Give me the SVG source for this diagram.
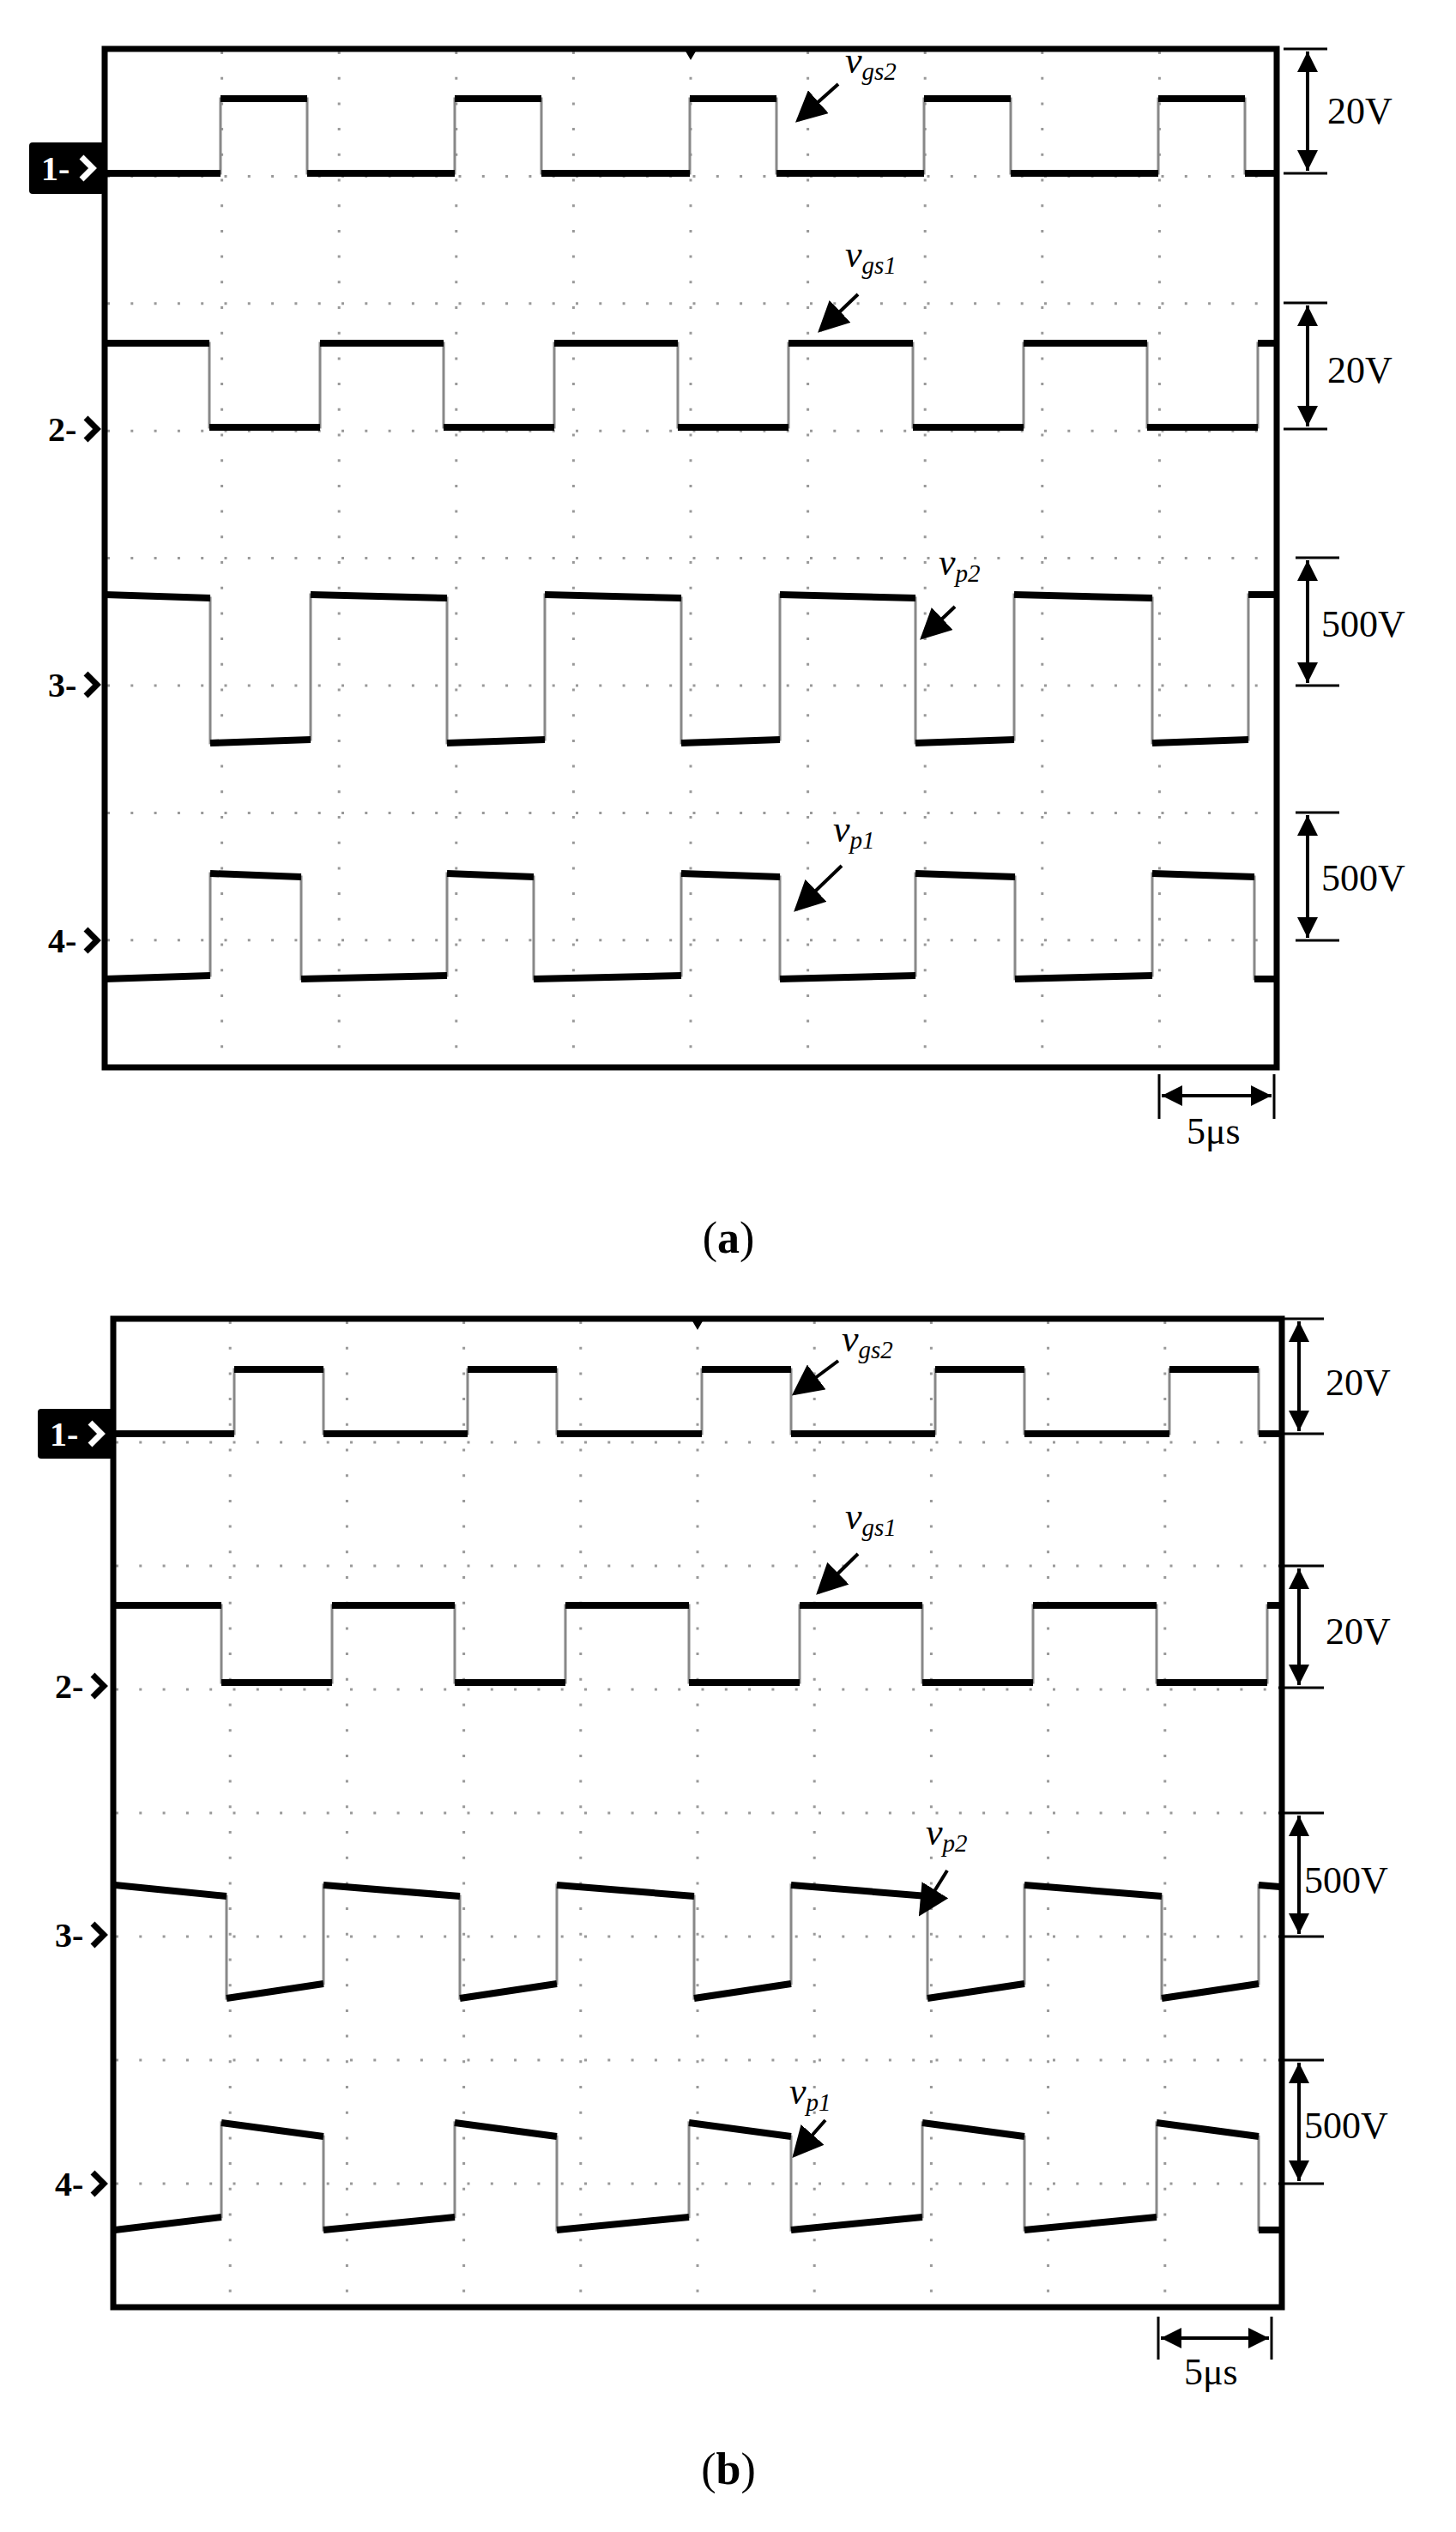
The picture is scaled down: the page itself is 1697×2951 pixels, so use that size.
<svg xmlns="http://www.w3.org/2000/svg" width="1697" height="2951" viewBox="0 0 1697 2951">
<style>
.frame{fill:none;stroke:#000;stroke-width:7}
.gv{stroke:#999;stroke-width:3;stroke-dasharray:3 26.7}
.gh{stroke:#999;stroke-width:3;stroke-dasharray:3 24.3}
.wg{fill:none;stroke:#888;stroke-width:3}
.wb{fill:none;stroke:#000;stroke-width:8}
.ann{stroke:#000;stroke-width:4;fill:none;marker-end:url(#ah)}
.dim{stroke:#000;stroke-width:4;fill:none;marker-start:url(#ah2);marker-end:url(#ah2)}
.tick{stroke:#000;stroke-width:3}
.t{font-family:"Liberation Serif",serif;font-size:44px;fill:#000}
.lbl{font-family:"Liberation Serif",serif;font-size:44px;font-style:italic}
.sub{font-size:29px}
.mk{font-family:"Liberation Serif",serif;font-size:40px;font-weight:bold}
.cap{font-family:"Liberation Serif",serif;font-size:52px}
</style>
<defs>
<marker id="ah" markerWidth="9" markerHeight="9" refX="8" refY="4.5" orient="auto" markerUnits="strokeWidth"><path d="M0,0L9,4.5L0,9z"/></marker>
<marker id="ah2" markerWidth="6" markerHeight="6" refX="6" refY="3" orient="auto-start-reverse" markerUnits="strokeWidth"><path d="M0,0L6,3L0,6z"/></marker>
</defs>

<g id="panel-a">
<g id="grid-a">
<line class="gv" x1="258.6" y1="60" x2="258.6" y2="1241"/><line class="gv" x1="395.2" y1="60" x2="395.2" y2="1241"/><line class="gv" x1="531.8" y1="60" x2="531.8" y2="1241"/><line class="gv" x1="668.4" y1="60" x2="668.4" y2="1241"/><line class="gv" x1="805" y1="60" x2="805" y2="1241"/><line class="gv" x1="941.6" y1="60" x2="941.6" y2="1241"/><line class="gv" x1="1078.2" y1="60" x2="1078.2" y2="1241"/><line class="gv" x1="1214.8" y1="60" x2="1214.8" y2="1241"/><line class="gv" x1="1351.4" y1="60" x2="1351.4" y2="1241"/>
<line class="gh" x1="125" y1="205.4" x2="1485" y2="205.4"/><line class="gh" x1="125" y1="353.8" x2="1485" y2="353.8"/><line class="gh" x1="125" y1="502.2" x2="1485" y2="502.2"/><line class="gh" x1="125" y1="650.6" x2="1485" y2="650.6"/><line class="gh" x1="125" y1="799" x2="1485" y2="799"/><line class="gh" x1="125" y1="947.4" x2="1485" y2="947.4"/><line class="gh" x1="125" y1="1095.8" x2="1485" y2="1095.8"/>
</g>
<g id="waves-a">
<path class="wg" d="M122,202H257V115H358V202H530V115H631V202H804V115H905V202H1077V115H1178V202H1350V115H1451V202H1486"/>
<path class="wb" d="M122,202H257M257,115H358M358,202H530M530,115H631M631,202H804M804,115H905M905,202H1077M1077,115H1178M1178,202H1350M1350,115H1451M1451,202H1486"/>
<path class="wg" d="M122,400H244V498H373V400H517V498H646V400H790V498H919V400H1064V498H1193V400H1337V498H1466V400H1486"/>
<path class="wb" d="M122,400H244M244,498H373M373,400H517M517,498H646M646,400H790M790,498H919M919,400H1064M1064,498H1193M1193,400H1337M1337,498H1466M1466,400H1486"/>
<path class="wg" d="M122,693L245,697V866L362,862V693L521,697V866L635,862V693L794,697V866L909,862V693L1067,697V866L1182,862V693L1343,697V866L1455,862V693L1486,693"/>
<path class="wb" d="M122,693L245,697M245,866L362,862M362,693L521,697M521,866L635,862M635,693L794,697M794,866L909,862M909,693L1067,697M1067,866L1182,862M1182,693L1343,697M1343,866L1455,862M1455,693L1486,693"/>
<path class="wg" d="M122,1141L245,1137V1018L351,1022V1141L521,1137V1018L622,1022V1141L794,1137V1018L909,1022V1141L1067,1137V1018L1183,1022V1141L1343,1137V1018L1462,1022V1141L1486,1141"/>
<path class="wb" d="M122,1141L245,1137M245,1018L351,1022M351,1141L521,1137M521,1018L622,1022M622,1141L794,1137M794,1018L909,1022M909,1141L1067,1137M1067,1018L1183,1022M1183,1141L1343,1137M1343,1018L1462,1022M1462,1141L1486,1141"/>
</g>
<rect class="frame" x="122" y="57" width="1366" height="1187"/>
<path d="M798,58L812,58L805,70z"/>
<g id="markers-a">
<rect x="34" y="166" width="88" height="60" rx="4"/>
<text class="mk" x="48" y="210" fill="#fff">1-</text>
<path d="M95,183L108,196L95,209" stroke="#fff" stroke-width="7" fill="none"/>
<text class="mk" x="56" y="514">2-</text><path d="M100,487L113,500L100,513" stroke="#000" stroke-width="7" fill="none"/>
<text class="mk" x="56" y="812">3-</text><path d="M100,785L113,798L100,811" stroke="#000" stroke-width="7" fill="none"/>
<text class="mk" x="56" y="1110">4-</text><path d="M100,1083L113,1096L100,1109" stroke="#000" stroke-width="7" fill="none"/>
</g>
<g id="labels-a">
<text class="lbl" x="985" y="85">v<tspan class="sub" dy="8">gs2</tspan></text><line class="ann" x1="977" y1="98" x2="930" y2="140"/>
<text class="lbl" x="985" y="311">v<tspan class="sub" dy="8">gs1</tspan></text><line class="ann" x1="1000" y1="343" x2="956" y2="385"/>
<text class="lbl" x="1094" y="670">v<tspan class="sub" dy="8">p2</tspan></text><line class="ann" x1="1113" y1="707" x2="1075" y2="743"/>
<text class="lbl" x="971" y="981">v<tspan class="sub" dy="8">p1</tspan></text><line class="ann" x1="981" y1="1009" x2="928" y2="1060"/>
</g>
<g id="scales-a">
<line class="tick" x1="1496" y1="57" x2="1547" y2="57"/><line class="tick" x1="1496" y1="202" x2="1547" y2="202"/><line class="dim" x1="1524" y1="60" x2="1524" y2="199"/><text class="t" x="1547" y="144">20V</text>
<line class="tick" x1="1496" y1="353" x2="1547" y2="353"/><line class="tick" x1="1496" y1="500" x2="1547" y2="500"/><line class="dim" x1="1524" y1="356" x2="1524" y2="497"/><text class="t" x="1547" y="446">20V</text>
<line class="tick" x1="1510" y1="650" x2="1561" y2="650"/><line class="tick" x1="1510" y1="799" x2="1561" y2="799"/><line class="dim" x1="1524" y1="653" x2="1524" y2="796"/><text class="t" x="1540" y="742">500V</text>
<line class="tick" x1="1510" y1="947" x2="1561" y2="947"/><line class="tick" x1="1510" y1="1096" x2="1561" y2="1096"/><line class="dim" x1="1524" y1="950" x2="1524" y2="1093"/><text class="t" x="1540" y="1038">500V</text>
<line class="tick" x1="1351" y1="1252" x2="1351" y2="1304"/><line class="tick" x1="1485" y1="1252" x2="1485" y2="1304"/><line class="dim" x1="1354" y1="1277" x2="1482" y2="1277"/><text class="t" x="1383" y="1333">5μs</text>
</g>
<text class="cap" x="849" y="1460" text-anchor="middle">(<tspan font-weight="bold">a</tspan>)</text>
</g>

<g id="panel-b">
<g id="grid-b">
<line class="gv" x1="268.2" y1="1540" x2="268.2" y2="2686"/><line class="gv" x1="404.4" y1="1540" x2="404.4" y2="2686"/><line class="gv" x1="540.6" y1="1540" x2="540.6" y2="2686"/><line class="gv" x1="676.8" y1="1540" x2="676.8" y2="2686"/><line class="gv" x1="813" y1="1540" x2="813" y2="2686"/><line class="gv" x1="949.2" y1="1540" x2="949.2" y2="2686"/><line class="gv" x1="1085.4" y1="1540" x2="1085.4" y2="2686"/><line class="gv" x1="1221.6" y1="1540" x2="1221.6" y2="2686"/><line class="gv" x1="1357.8" y1="1540" x2="1357.8" y2="2686"/>
<line class="gh" x1="135" y1="1681" x2="1491" y2="1681"/><line class="gh" x1="135" y1="1825" x2="1491" y2="1825"/><line class="gh" x1="135" y1="1969" x2="1491" y2="1969"/><line class="gh" x1="135" y1="2113" x2="1491" y2="2113"/><line class="gh" x1="135" y1="2257" x2="1491" y2="2257"/><line class="gh" x1="135" y1="2401" x2="1491" y2="2401"/><line class="gh" x1="135" y1="2545" x2="1491" y2="2545"/>
</g>
<g id="waves-b">
<path class="wg" d="M134,1671H273V1596H377V1671H545V1596H649V1671H818V1596H922V1671H1090V1596H1194V1671H1363V1596H1467V1671H1492"/>
<path class="wb" d="M134,1671H273M273,1596H377M377,1671H545M545,1596H649M649,1671H818M818,1596H922M922,1671H1090M1090,1596H1194M1194,1671H1363M1363,1596H1467M1467,1671H1492"/>
<path class="wg" d="M134,1871H258V1961H387V1871H530V1961H659V1871H803V1961H932V1871H1075V1961H1204V1871H1348V1961H1477V1871H1492"/>
<path class="wb" d="M134,1871H258M258,1961H387M387,1871H530M530,1961H659M659,1871H803M803,1961H932M932,1871H1075M1075,1961H1204M1204,1871H1348M1348,1961H1477M1477,1871H1492"/>
<path class="wg" d="M134,2197L264,2210V2329L377,2312V2197L536,2210V2329L649,2312V2197L809,2210V2329L922,2312V2197L1081,2210V2329L1194,2312V2197L1354,2210V2329L1467,2312V2197L1492,2199"/>
<path class="wb" d="M134,2197L264,2210M264,2329L377,2312M377,2197L536,2210M536,2329L649,2312M649,2197L809,2210M809,2329L922,2312M922,2197L1081,2210M1081,2329L1194,2312M1194,2197L1354,2210M1354,2329L1467,2312M1467,2197L1492,2199"/>
<path class="wg" d="M134,2599L258,2584V2474L377,2490V2599L530,2584V2474L649,2490V2599L803,2584V2474L922,2490V2599L1075,2584V2474L1194,2490V2599L1348,2584V2474L1467,2490V2599L1492,2599"/>
<path class="wb" d="M134,2599L258,2584M258,2474L377,2490M377,2599L530,2584M530,2474L649,2490M649,2599L803,2584M803,2474L922,2490M922,2599L1075,2584M1075,2474L1194,2490M1194,2599L1348,2584M1348,2474L1467,2490M1467,2599L1492,2599"/>
</g>
<rect class="frame" x="132" y="1537" width="1362" height="1152"/>
<path d="M806,1538L820,1538L813,1550z"/>
<g id="markers-b">
<rect x="44" y="1642" width="88" height="58" rx="4"/>
<text class="mk" x="58" y="1685" fill="#fff">1-</text>
<path d="M105,1658L118,1671L105,1684" stroke="#fff" stroke-width="7" fill="none"/>
<text class="mk" x="64" y="1979">2-</text><path d="M108,1952L121,1965L108,1978" stroke="#000" stroke-width="7" fill="none"/>
<text class="mk" x="64" y="2269">3-</text><path d="M108,2242L121,2255L108,2268" stroke="#000" stroke-width="7" fill="none"/>
<text class="mk" x="64" y="2559">4-</text><path d="M108,2532L121,2545L108,2558" stroke="#000" stroke-width="7" fill="none"/>
</g>
<g id="labels-b">
<text class="lbl" x="981" y="1575">v<tspan class="sub" dy="8">gs2</tspan></text><line class="ann" x1="977" y1="1586" x2="926" y2="1624"/>
<text class="lbl" x="985" y="1782">v<tspan class="sub" dy="8">gs1</tspan></text><line class="ann" x1="1000" y1="1811" x2="954" y2="1856"/>
<text class="lbl" x="1079" y="2150">v<tspan class="sub" dy="8">p2</tspan></text><line class="ann" x1="1104" y1="2180" x2="1073" y2="2230"/>
<text class="lbl" x="920" y="2452">v<tspan class="sub" dy="8">p1</tspan></text><line class="ann" x1="962" y1="2471" x2="926" y2="2512"/>
</g>
<g id="scales-b">
<line class="tick" x1="1490" y1="1537" x2="1543" y2="1537"/><line class="tick" x1="1490" y1="1671" x2="1543" y2="1671"/><line class="dim" x1="1514" y1="1540" x2="1514" y2="1668"/><text class="t" x="1545" y="1626">20V</text>
<line class="tick" x1="1490" y1="1825" x2="1543" y2="1825"/><line class="tick" x1="1490" y1="1967" x2="1543" y2="1967"/><line class="dim" x1="1514" y1="1828" x2="1514" y2="1964"/><text class="t" x="1545" y="1916">20V</text>
<line class="tick" x1="1490" y1="2113" x2="1543" y2="2113"/><line class="tick" x1="1490" y1="2257" x2="1543" y2="2257"/><line class="dim" x1="1514" y1="2116" x2="1514" y2="2254"/><text class="t" x="1520" y="2206">500V</text>
<line class="tick" x1="1490" y1="2401" x2="1543" y2="2401"/><line class="tick" x1="1490" y1="2545" x2="1543" y2="2545"/><line class="dim" x1="1514" y1="2404" x2="1514" y2="2542"/><text class="t" x="1520" y="2492">500V</text>
<line class="tick" x1="1350" y1="2700" x2="1350" y2="2750"/><line class="tick" x1="1482" y1="2700" x2="1482" y2="2750"/><line class="dim" x1="1353" y1="2725" x2="1479" y2="2725"/><text class="t" x="1380" y="2779">5μs</text>
</g>
<text class="cap" x="849" y="2895" text-anchor="middle">(<tspan font-weight="bold">b</tspan>)</text>
</g>
</svg>
